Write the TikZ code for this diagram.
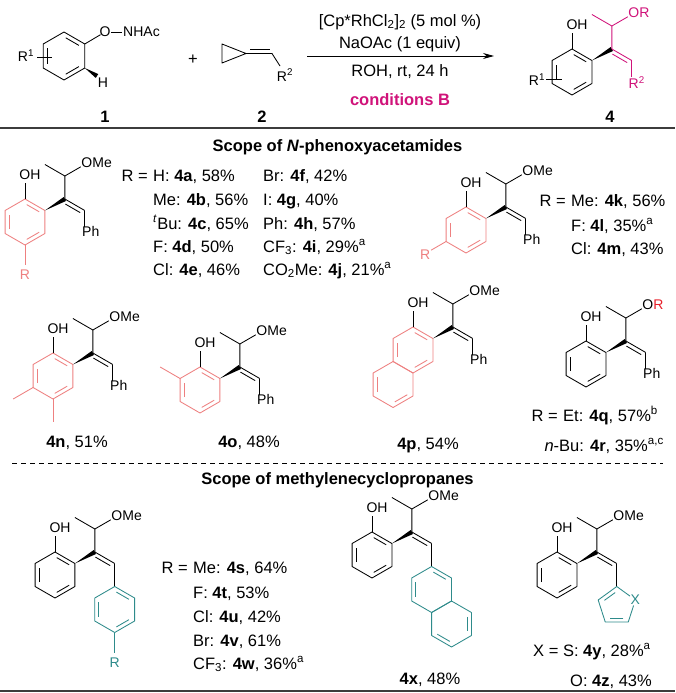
\documentclass[tikz,border=0pt]{standalone}
\usepackage{fontspec}
\setmainfont{Liberation Sans}
\usetikzlibrary{calc,arrows.meta}
\definecolor{mag}{HTML}{D0137A}
\definecolor{pk}{HTML}{EE8080}
\definecolor{tl}{HTML}{2E8B8B}
\definecolor{rd}{HTML}{E8202A}
\definecolor{rule}{HTML}{3C3C3C}
\def\bl{23}\def\bh{19.92}\def\bhalf{11.5}
\newcommand\hexat[3]{%
  \coordinate (#1) at (#2,#3);
  \coordinate (#1-1) at ($(#1)+(0,-\bl)$);
  \coordinate (#1-2) at ($(#1)+(\bh,-\bhalf)$);
  \coordinate (#1-3) at ($(#1)+(\bh,\bhalf)$);
  \coordinate (#1-4) at ($(#1)+(0,\bl)$);
  \coordinate (#1-5) at ($(#1)+(-\bh,\bhalf)$);
  \coordinate (#1-6) at ($(#1)+(-\bh,-\bhalf)$);}
\newcommand\inner[4]{\draw[bond,#2,shorten <=2pt,shorten >=2pt] ($(#1)!0.8!(#1-#3)$) -- ($(#1)!0.8!(#1-#4)$);}
\newcommand\hexline[2]{\draw[bond,#2] (#1-1)--(#1-2)--(#1-3)--(#1-4)--(#1-5)--(#1-6)--cycle;}
\newcommand\ring[2]{\hexline{#1}{#2}\inner{#1}{#2}{1}{2}\inner{#1}{#2}{3}{4}\inner{#1}{#2}{5}{6}}
\newcommand\chain[4]{%
  \coordinate (#1-a) at ($(#1-2)+(\bh,-\bhalf)$);
  \coordinate (#1-b) at ($(#1-a)+(0,-\bl)$);
  \coordinate (#1-m) at ($(#1-b)+(-\bh,-\bhalf)$);
  \coordinate (#1-o) at ($(#1-b)+(\bh,-\bhalf)$);
  \coordinate (#1-c) at ($(#1-a)+(\bh,\bhalf)$);
  \draw[bond] (#1-1) -- ($(#1-1)+(0,-16)$);
  \node[lbl] (#1-oh) at ($(#1-1)+(5,-24)$) {OH};
  \fill (#1-2) -- ($(#1-a)!2.3pt!90:(#1-2)$) -- ($(#1-a)!2.3pt!-90:(#1-2)$) -- cycle;
  \draw[bond,#2] (#1-a)--(#1-b)--(#1-m);
  \draw[bond,#2] (#1-b)--($(#1-b)!0.8!(#1-o)$);
  \node[lbl,anchor=west] (#1-ol) at ($(#1-o)+(-3.5,-2)$) {#3};
  \draw[bond,#2] (#1-a)--(#1-c);
  \draw[bond,#2,shorten <=3pt,shorten >=3pt] ($(#1-a)+(-2,3.6)$)--($(#1-c)+(-2,3.6)$);}
\newcommand\ph[1]{\draw[bond] (#1-c) -- ++(0,16); \node[lbl,anchor=north] (#1-ph) at ($(#1-c)+(6,16)$) {Ph};}
\newcommand\Req{R =\hspace*{0.3em}}
\tikzset{bond/.style={line width=0.85pt,line join=round},
  lbl/.style={inner sep=0pt,font=\fontsize{14}{16}\selectfont},
  txt/.style={inner sep=0pt,font=\fontsize{16.5}{19}\selectfont},
  cmp/.style={inner sep=0pt,font=\fontsize{16.5}{19}\selectfont\bfseries},
  vv/.style={txt,anchor=base west},
  rq/.style={txt,anchor=base east},
  rulel/.style={line width=2pt,rule}}
\begin{document}
\begin{tikzpicture}[x=1pt,y=-1pt]
\useasboundingbox[fill=white] (0,0) rectangle (675,693);
% ---------- header ----------
\begingroup\def\bl{24}\def\bh{20.78}\def\bhalf{12}
\hexat{h1}{64}{56}
\ring{h1}{black}
\endgroup
\node[lbl] (h1o) at (105,32) {O};
\draw[bond] (h1-2) -- ($(h1-2)!0.78!(105,32)$);
\coordinate (h1d1) at (111,32); \coordinate (h1d2) at (122,32);
\draw[bond] (h1d1) -- (h1d2);
\node[lbl,anchor=west] (h1n) at (123,32) {NHAc};
\coordinate (h1h) at (97,76);
\fill (h1-3) -- ($(h1h)!2.3pt!90:(h1-3)$) -- ($(h1h)!2.3pt!-90:(h1-3)$) -- cycle;
\node[lbl] (h1hl) at (103,83) {H};
\node[lbl] (h1r) at (26,56) {R\textsuperscript{1}};
\coordinate (h1r1) at (37,57); \coordinate (h1r2) at (52,57);
\draw[bond] (h1r1) -- (h1r2);
\node[cmp] (n1) at (105,117) {1};
\node[txt] (plus) at (193,60) {+};
\coordinate (t1) at (222,44); \coordinate (t2) at (222,63); \coordinate (t3) at (246,53.5);
\coordinate (t4) at (272,53.5); \coordinate (t5) at (280,66);
\draw[bond] (t1)--(t2)--(t3)--cycle (t3)--(t4)--(t5);
\draw[bond] ($(t3)+(4,-4)$) -- ($(t4)+(-2,-4)$);
\node[lbl] (t2l) at (285,75) {R\textsuperscript{2}};
\node[cmp] (n2) at (262,117) {2};
\coordinate (ar1) at (307,56); \coordinate (ar2) at (494,56);
\draw[line width=0.9pt,-{Stealth[length=11pt,width=6pt]}] (ar1) -- (ar2);
\node[txt] (c1) at (400,22) {[Cp*RhCl\textsubscript{2}]\textsubscript{2} (5 mol \%)};
\node[txt] (c2) at (400,44) {NaOAc (1 equiv)};
\node[txt] (c3) at (400,72) {ROH, rt, 24 h};
\node[cmp,text=mag] (c4) at (400,100) {conditions B};
% product 4
\hexat{P}{572}{72}
\ring{P}{black}
\chain{P}{mag}{\textcolor{mag}{OR}}{}
\draw[bond,mag] (P-c) -- ++(0,16);
\node[lbl,text=mag,anchor=north] (P-r2) at ($(P-c)+(5,16)$) {R\textsuperscript{2}};
\node[lbl] (P-r1) at (537,80) {R\textsuperscript{1}};
\coordinate (P-r1a) at (546,79); \coordinate (P-r1b) at (562,79);
\draw[bond] (P-r1a) -- (P-r1b);
\node[cmp] (n4) at (610,117) {4};
\coordinate (L1a) at (0,128); \coordinate (L1b) at (675,128);
\draw[rulel] (L1a) -- (L1b);
% ---------- scope 1 ----------
\node[cmp] (s1) at (337.5,147) {Scope of \textit{N}-phenoxyacetamides};
% 4a
\hexat{a}{25}{222}
\ring{a}{pk}
\chain{a}{black}{OMe}{}
\ph{a}
\draw[bond,pk] (a-4) -- ++(0,20);
\node[lbl,text=pk] (a-r) at ($(a-4)+(0,30)$) {R};
\node[rq] (a-t0) at (153,181) {\Req};
\node[vv] (a-t1) at (153,181) {H: \textbf{4a}, 58\%};
\node[vv] (a-t2) at (153,205) {Me: \textbf{4b}, 56\%};
\node[vv] (a-t3) at (153,229) {\textsuperscript{\textit{t}}Bu: \textbf{4c}, 65\%};
\node[vv] (a-t4) at (153,252) {F: \textbf{4d}, 50\%};
\node[vv] (a-t5) at (153,275) {Cl: \textbf{4e}, 46\%};
\node[vv] (a-t6) at (263,181) {Br: \textbf{4f}, 42\%};
\node[vv] (a-t7) at (263,205) {I: \textbf{4g}, 40\%};
\node[vv] (a-t8) at (263,229) {Ph: \textbf{4h}, 57\%};
\node[vv] (a-t9) at (263,252) {CF\textsubscript{3}: \textbf{4i}, 29\%\textsuperscript{a}};
\node[vv] (a-t10) at (263,275) {CO\textsubscript{2}Me: \textbf{4j}, 21\%\textsuperscript{a}};
% 4k
\hexat{k}{466}{230}
\ring{k}{pk}
\chain{k}{black}{OMe}{}
\ph{k}
\draw[bond,pk] (k-5) -- ++(-15,8.7);
\node[lbl,text=pk] (k-r) at ($(k-5)+(-21,13)$) {R};
\node[rq] (k-t0) at (571,206) {\Req};
\node[vv] (k-t1) at (571,206) {Me: \textbf{4k}, 56\%};
\node[vv] (k-t2) at (571,231) {F: \textbf{4l}, 35\%\textsuperscript{a}};
\node[vv] (k-t3) at (571,254) {Cl: \textbf{4m}, 43\%};
% 4n
\hexat{n}{53}{376}
\ring{n}{pk}
\chain{n}{black}{OMe}{}
\ph{n}
\draw[bond,pk] (n-5) -- ++(-19.9,11.5);
\draw[bond,pk] (n-4) -- ++(0,23);
\node[txt] (n-t) at (77,443) {\textbf{4n}, 51\%};
% 4o
\hexat{o}{200}{390}
\ring{o}{pk}
\chain{o}{black}{OMe}{}
\ph{o}
\draw[bond,pk] (o-6) -- ++(-19.9,-11.5);
\node[txt] (o-t) at (249,443) {\textbf{4o}, 48\%};
% 4p
\hexat{p}{413}{350}
\hexat{q}{393.08}{384.5}
\ring{p}{pk}
\hexline{q}{pk}
\inner{q}{pk}{5}{6}\inner{q}{pk}{3}{4}
\chain{p}{black}{OMe}{}
\ph{p}
\node[txt] (p-t) at (428,445) {\textbf{4p}, 54\%};
% 4q
\hexat{r}{586}{364}
\ring{r}{black}
\chain{r}{black}{O\textcolor{rd}{R}}{}
\ph{r}
\node[rq] (r-t0) at (563,421) {\Req};
\node[vv] (r-t1) at (563,421) {Et: \textbf{4q}, 57\%\textsuperscript{b}};
\node[txt,anchor=base east] (r-t2) at (664,451) {\textit{n}-Bu: \textbf{4r}, 35\%\textsuperscript{a,c}};
\coordinate (L2a) at (12,463); \coordinate (L2b) at (663,463);
\draw[line width=0.8pt,dash pattern=on 5pt off 4pt] (L2a) -- (L2b);
% ---------- scope 2 ----------
\node[cmp] (s2) at (337.5,480) {Scope of methylenecyclopropanes};
% 4s
\hexat{s}{55}{575}
\ring{s}{black}
\chain{s}{black}{OMe}{}
\draw[bond] (s-c) -- ++(0,23);
\hexat{S}{114.7}{609.5}
\ring{S}{tl}
\draw[bond,tl] (S-4) -- ++(0,20);
\node[lbl,text=tl] (S-r) at ($(S-4)+(0,30)$) {R};
\node[rq] (s-t0) at (193,573) {\Req};
\node[vv] (s-t1) at (193,573) {Me: \textbf{4s}, 64\%};
\node[vv] (s-t2) at (193,598) {F: \textbf{4t}, 53\%};
\node[vv] (s-t3) at (193,622) {Cl: \textbf{4u}, 42\%};
\node[vv] (s-t4) at (193,646) {Br: \textbf{4v}, 61\%};
\node[vv] (s-t5) at (193,669) {CF\textsubscript{3}: \textbf{4w}, 36\%\textsuperscript{a}};
% 4x
\hexat{x}{372}{555}
\ring{x}{black}
\chain{x}{black}{OMe}{}
\draw[bond] (x-c) -- ++(0,23);
\hexat{nA}{431.6}{589.5}
\hexat{nB}{451.52}{624}
\hexline{nA}{tl}\hexline{nB}{tl}
\inner{nA}{tl}{1}{2}\inner{nA}{tl}{5}{6}
\inner{nB}{tl}{2}{3}\inner{nB}{tl}{4}{5}
\node[txt] (x-t) at (430,680) {\textbf{4x}, 48\%};
% 4y
\hexat{y}{557}{575}
\ring{y}{black}
\chain{y}{black}{OMe}{}
\coordinate (th1) at ($(y-c)+(0,23)$);
\coordinate (th2) at ($(th1)+(18.6,13.5)$);
\coordinate (th3) at ($(th1)+(11.5,35.5)$);
\coordinate (th4) at ($(th1)+(-11.5,35.5)$);
\coordinate (th5) at ($(th1)+(-18.6,13.5)$);
\coordinate (thc) at ($(th1)+(0,19.6)$);
\draw[bond] (y-c) -- (th1);
\node[lbl,text=tl,fill=white,inner sep=0.5pt] (thx) at (th2) {X};
\draw[bond,tl] (thx) -- (th3) -- (th4) -- (th5) -- (th1) -- (thx);
\draw[bond,tl,shorten <=2pt,shorten >=2pt] ($(thc)!0.75!(th1)$) -- ($(thc)!0.75!(th5)$);
\draw[bond,tl,shorten <=2pt,shorten >=2pt] ($(thc)!0.75!(th3)$) -- ($(thc)!0.75!(th4)$);
\node[vv] (y-t1) at (533,656) {X = S: \textbf{4y}, 28\%\textsuperscript{a}};
\node[vv] (y-t2) at (570,686) {O: \textbf{4z}, 43\%};
\coordinate (L3a) at (0,690.5); \coordinate (L3b) at (675,690.5);
\draw[rulel] (L3a) -- (L3b);
\end{tikzpicture}
\end{document}
